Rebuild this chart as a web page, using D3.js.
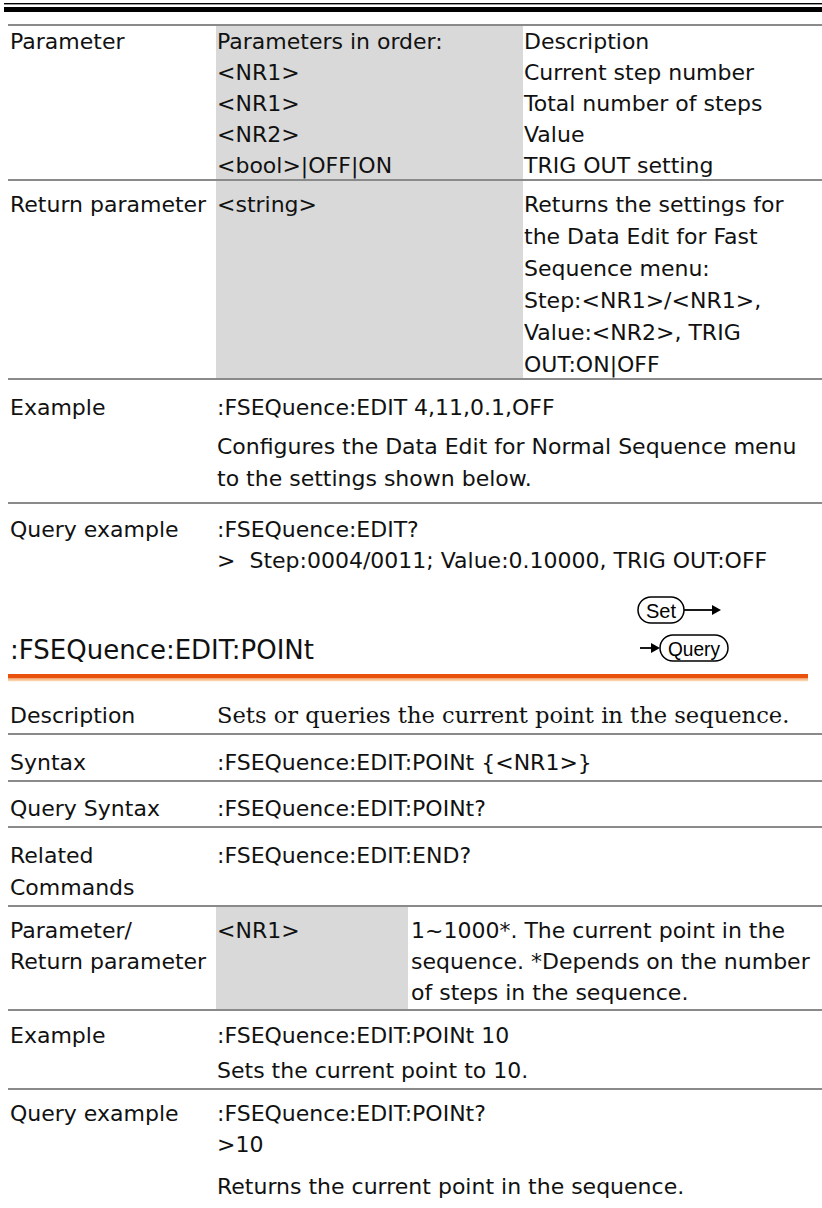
<!DOCTYPE html>
<html><head><meta charset="utf-8">
<script src="https://cdn.jsdelivr.net/npm/d3@7/dist/d3.min.js"></script>
<style>body{margin:0;background:#fff}</style>
</head><body>
<script>
// ---------- content (text only) ----------
const t1ParamLabel = ["Parameter"];
const t1ParamTypes = ["Parameters in order:", "<NR1>", "<NR1>", "<NR2>", "<bool>|OFF|ON"];
const t1ParamDesc = ["Description", "Current step number", "Total number of steps", "Value", "TRIG OUT setting"];
const t1ReturnLabel = ["Return parameter"];
const t1ReturnType = ["<string>"];
const t1ReturnDesc = ["Returns the settings for", "the Data Edit for Fast", "Sequence menu:", "Step:<NR1>/<NR1>,", "Value:<NR2>, TRIG", "OUT:ON|OFF"];
const t1ExampleLabel = ["Example"];
const t1ExampleCmd = [":FSEQuence:EDIT 4,11,0.1,OFF"];
const t1ExampleDesc = ["Configures the Data Edit for Normal Sequence menu", "to the settings shown below."];
const t1QueryLabel = ["Query example"];
const t1QueryText = [":FSEQuence:EDIT?", ">  Step:0004/0011; Value:0.10000, TRIG OUT:OFF"];
const headingText = [":FSEQuence:EDIT:POINt"];
const badgeLabels = ["Set", "Query"];
const t2Labels = ["Description", "Syntax", "Query Syntax"];
const t2Values = ["Sets or queries the current point in the sequence.", ":FSEQuence:EDIT:POINt {<NR1>}", ":FSEQuence:EDIT:POINt?"];
const t2RelatedLabel = ["Related", "Commands"];
const t2RelatedValue = [":FSEQuence:EDIT:END?"];
const t2ParamLabel = ["Parameter/", "Return parameter"];
const t2ParamType = ["<NR1>"];
const t2ParamDesc = ["1~1000*. The current point in the", "sequence. *Depends on the number", "of steps in the sequence."];
const t2ExampleLabel = ["Example"];
const t2ExampleCmd = [":FSEQuence:EDIT:POINt 10"];
const t2ExampleDesc = ["Sets the current point to 10."];
const t2QueryLabel = ["Query example"];
const t2QueryText = [":FSEQuence:EDIT:POINt?", ">10"];
const t2QueryDesc = ["Returns the current point in the sequence."];

// ---------- layout ----------
const W = 822, H = 1208;
const SANS = "'DejaVu Sans', sans-serif";
const SERIF = "'DejaVu Serif', serif";
const FS = 22;
const svg = d3.select("body").append("svg").attr("width", W).attr("height", H)
  .style("display", "block");

const colLabel = 10, colType = 217, colDesc1 = 524, colDesc2 = 411;

function lines(arr, xPos, y0, lh, opts = {}) {
  const y = d3.scaleLinear().domain([0, 1]).range([y0, y0 + lh]);
  svg.append("g").selectAll("text").data(arr).join("text")
    .attr("x", xPos).attr("y", (d, i) => y(i))
    .attr("font-family", opts.font || SANS)
    .attr("font-size", opts.size || FS)
    .attr("fill", "#111")
    .style("white-space", "pre")
    .text(d => d);
}
function rule(yPos, x0 = 8, x1 = W, color = "#8a8a8a", w = 2) {
  svg.append("rect").attr("x", x0).attr("y", yPos - w / 2).attr("width", x1 - x0)
    .attr("height", w).attr("fill", color);
}
function fill(x0, x1, y0, y1) {
  svg.append("rect").attr("x", x0).attr("y", y0).attr("width", x1 - x0)
    .attr("height", y1 - y0).attr("fill", "#d9d9d9");
}

// top double black rules
svg.append("rect").attr("x", 4).attr("y", 3).attr("width", W - 4).attr("height", 1.4).attr("fill", "#000");
svg.append("rect").attr("x", 4).attr("y", 7).attr("width", W - 4).attr("height", 5).attr("fill", "#000");

// ---------- table 1 ----------
fill(216, 523, 26, 379);
rule(25);
lines(t1ParamLabel, colLabel, 49, 31);
lines(t1ParamTypes, colType, 49, 31);
lines(t1ParamDesc, colDesc1, 49, 31);
rule(180);
lines(t1ReturnLabel, colLabel, 212, 32);
lines(t1ReturnType, colType, 212, 32);
lines(t1ReturnDesc, colDesc1, 212, 32);
rule(379);
lines(t1ExampleLabel, colLabel, 415, 32);
lines(t1ExampleCmd, colType, 415, 32);
lines(t1ExampleDesc, colType, 454, 32);
rule(503);
lines(t1QueryLabel, colLabel, 537, 31);
lines(t1QueryText, colType, 537, 31);

// ---------- Set / Query badges ----------
const badge = [
  {label: badgeLabels[0], ox: 638, ow: 46, cy: 610, arrowFrom: 684, arrowTo: 721, tw: 30},
  {label: badgeLabels[1], ox: 660, ow: 68, cy: 648, arrowFrom: 640, arrowTo: 660, tw: 52}
];
const bg = svg.append("g");
badge.forEach(b => {
  const h = 26;
  bg.append("rect").attr("x", b.ox).attr("y", b.cy - h / 2).attr("width", b.ow).attr("height", h)
    .attr("rx", h / 2).attr("ry", h / 2).attr("fill", "#fff").attr("stroke", "#000").attr("stroke-width", 1.5);
  bg.append("text").attr("x", b.ox + b.ow / 2 - b.tw / 2).attr("y", b.cy + 7.5)
    .attr("font-family", "'Liberation Sans', Arial, sans-serif")
    .attr("font-size", 21).attr("fill", "#000")
    .attr("textLength", b.tw).attr("lengthAdjust", "spacingAndGlyphs").text(b.label);
  bg.append("line").attr("x1", b.arrowFrom).attr("x2", b.arrowTo - 8).attr("y1", b.cy).attr("y2", b.cy)
    .attr("stroke", "#000").attr("stroke-width", 1.8);
  bg.append("path").attr("d", `M${b.arrowTo - 9},${b.cy - 5}L${b.arrowTo},${b.cy}L${b.arrowTo - 9},${b.cy + 5}Z`)
    .attr("fill", "#000");
});

// heading
lines(headingText, colLabel, 659, 30, {size: 26});
// orange rule
svg.append("rect").attr("x", 8).attr("y", 674).attr("width", 800).attr("height", 4.2).attr("fill", "#e9520c");
svg.append("rect").attr("x", 8).attr("y", 678.2).attr("width", 800).attr("height", 1.5).attr("fill", "#f3995a");
svg.append("rect").attr("x", 8).attr("y", 679.7).attr("width", 800).attr("height", 1.5).attr("fill", "#fbd2a8");

// ---------- table 2 ----------
const t2Base = [723, 770, 816];
t2Labels.forEach((lab, i) => {
  lines([lab], colLabel, t2Base[i], 31);
  lines([t2Values[i]], colType, t2Base[i], 31, i === 0 ? {font: SERIF, size: 22.6} : {});
  rule(t2Base[i] + 11);
});
lines(t2RelatedLabel, colLabel, 863, 32);
lines(t2RelatedValue, colType, 863, 32);
rule(906);
fill(216, 408, 907, 1010);
lines(t2ParamLabel, colLabel, 938, 31);
lines(t2ParamType, colType, 938, 31);
lines(t2ParamDesc, colDesc2, 938, 31);
rule(1010);
lines(t2ExampleLabel, colLabel, 1043, 31);
lines(t2ExampleCmd, colType, 1043, 31);
lines(t2ExampleDesc, colType, 1078, 31);
rule(1089);
lines(t2QueryLabel, colLabel, 1121, 31);
lines(t2QueryText, colType, 1121, 31);
lines(t2QueryDesc, colType, 1194, 31);
</script>
</body></html>
